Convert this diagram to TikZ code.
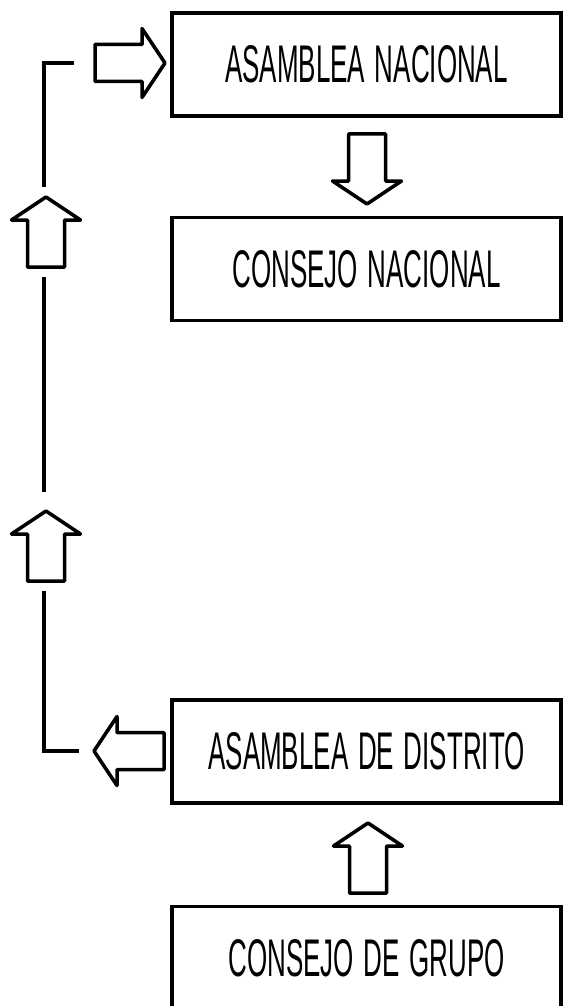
\documentclass[tikz,border=0pt]{standalone}
\usepackage{fontspec}
\newfontfamily\estrecha[FakeStretch=0.49, WordSpace=1.35]{Liberation Sans}
\tikzset{
	caja/.style={draw, line width=3.8pt, minimum width=389pt, minimum height=103pt, inner sep=0pt,
		font=\estrecha\fontsize{53}{60}\selectfont},
	linea/.style={line width=3.5pt},
	flecha/.pic={\draw[line width=3.5pt, line join=round]
		(0,-18.5) -- (47,-18.5) -- (47,-34.5) -- (70,0) -- (47,34.5) -- (47,18.5) -- (0,18.5) -- cycle;}
}
\begin{document}
\begin{tikzpicture}
	[x=1pt, y=-1pt]
	\useasboundingbox (0,0) rectangle (565,1006);
	\clip (0,0) rectangle (565,1006);
	\node[caja] (asamblea) at (366.5,64.5) {ASAMBLEA NACIONAL};
	\node[caja] (consejo) at (366.5,269) {CONSEJO NACIONAL};
	\node[caja] (distrito) at (366.5,751.5) {ASAMBLEA DE DISTRITO};
	\node[caja] (grupo) at (366.5,958) {CONSEJO DE GRUPO};
	\pic at (95,63) {flecha};
	\pic[rotate=-90] at (367,134) {flecha};
	\pic[rotate=90] at (46,267) {flecha};
	\pic[rotate=90] at (46,581) {flecha};
	\pic[rotate=180] at (164,751) {flecha};
	\pic[rotate=90] at (368,893) {flecha};
	\coordinate (a1) at (74,63);
	\coordinate (a2) at (44,63);
	\coordinate (a3) at (44,187);
	\coordinate (b1) at (44,277);
	\coordinate (b2) at (44,492);
	\coordinate (d1) at (44,591);
	\coordinate (d2) at (44,751);
	\coordinate (d3) at (79,751);
	\draw[linea] (a1) -- (a2) -- (a3);
	\draw[linea] (b1) -- (b2);
	\draw[linea] (d1) -- (d2) -- (d3);
\end{tikzpicture}
\end{document}
